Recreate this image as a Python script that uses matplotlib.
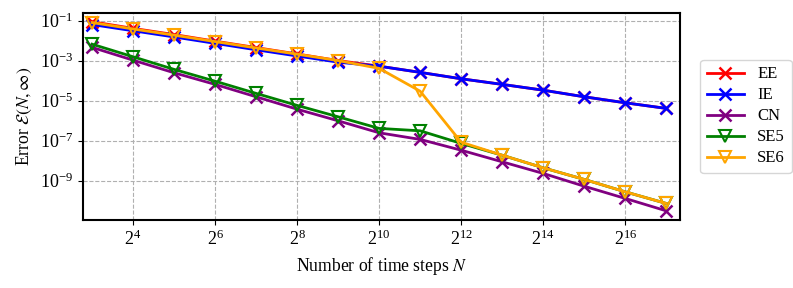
import matplotlib
matplotlib.use("Agg")
import matplotlib.pyplot as plt
import numpy as np
from matplotlib.ticker import NullLocator, LogFormatterSciNotation

plt.rcParams["font.family"] = ["Liberation Serif", "DejaVu Serif"]
plt.rcParams["mathtext.fontset"] = "stix"

# time steps N = 2^3 .. 2^17
N = [2 ** k for k in range(3, 18)]

# log10 of the error
EE_log = [-1.06, -1.39, -1.70, -2.03, -2.35, -2.67, -3.00, -3.28,
          -3.59, -3.91, -4.19, -4.48, -4.81, -5.11, -5.39]
IE_log = [-1.20, -1.51, -1.82, -2.14, -2.46, -2.77, -3.08, -3.28,
          -3.59, -3.91, -4.19, -4.48, -4.81, -5.11, -5.39]
CN_log = [-2.34, -2.98, -3.61, -4.19, -4.81, -5.43, -6.01, -6.61,
          -6.94, -7.48, -8.06, -8.64, -9.28, -9.89, -10.51]
SE5_log = [-2.18, -2.81, -3.44, -4.03, -4.64, -5.24, -5.81, -6.39,
           -6.51, -7.14, -7.73, -8.36, -8.94, -9.56, -10.14]
SE6_log = [-1.10, -1.42, -1.73, -2.05, -2.37, -2.68, -3.00, -3.39,
           -4.53, -7.08, -7.73, -8.36, -8.94, -9.56, -10.14]

series = [
    ("EE", EE_log, "red", "x"),
    ("IE", IE_log, "blue", "x"),
    ("CN", CN_log, "purple", "x"),
    ("SE5", SE5_log, "green", "v"),
    ("SE6", SE6_log, "orange", "v"),
]

fig = plt.figure(figsize=(7.93, 2.88), dpi=100)
ax = fig.add_axes([0.1047, 0.236, 0.753, 0.719])

for name, vals, color, marker in series:
    err = 10.0 ** np.array(vals)
    if marker == "v":
        ax.plot(N, err, color=color, marker=marker, markersize=8,
                markerfacecolor="none", markeredgewidth=1.5, linewidth=2,
                label=name)
    else:
        ax.plot(N, err, color=color, marker=marker, markersize=8,
                markeredgewidth=1.8, linewidth=2, label=name)

ax.set_xscale("log", base=2)
ax.set_yscale("log")
ax.set_xlim(2 ** 2.78, 2 ** 17.34)
ax.set_ylim(10 ** -10.97, 10 ** -0.62)

ax.set_xticks([2 ** k for k in range(4, 17, 2)])
ax.xaxis.set_major_formatter(LogFormatterSciNotation(base=2))
ax.xaxis.set_minor_locator(NullLocator())
ax.set_yticks([10.0 ** k for k in range(-9, 0, 2)])
ax.yaxis.set_minor_locator(NullLocator())
ax.tick_params(labelsize=13)

ax.grid(True, linestyle="--", color="#b0b0b0", linewidth=0.8)
for spine in ax.spines.values():
    spine.set_linewidth(1.5)

ax.set_xlabel("Number of time steps $N$", fontsize=12.7)
ax.set_ylabel(r"Error $\mathcal{E}(N,\infty)$", fontsize=12.7)

ax.legend(loc="center left", bbox_to_anchor=(1.02, 0.5), fontsize=12,
          handlelength=2.2, borderpad=0.4, labelspacing=0.3)

fig.savefig("out.png", dpi=100)
